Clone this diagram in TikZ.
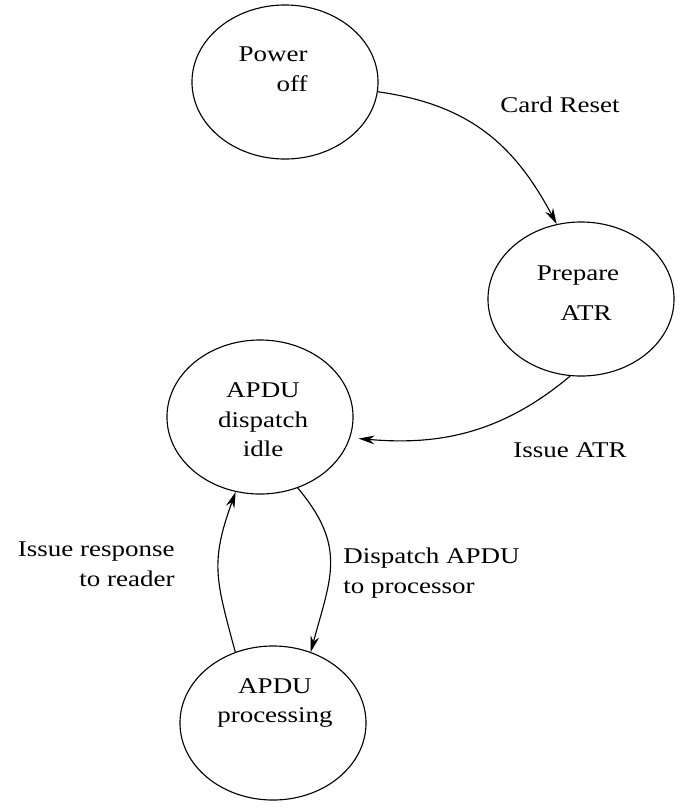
\documentclass[tikz,border=0pt]{standalone}
\usepackage{fontspec}
\setmainfont{Liberation Serif}
\usetikzlibrary{shapes.geometric, arrows.meta, positioning, calc}

\begin{document}
\begin{tikzpicture}[x=0.025cm, y=0.025cm, font=\fontsize{16}{21}\selectfont,
    state/.style={ellipse, draw=black, line width=0.8pt, minimum width=4.65cm, minimum height=3.85cm, inner sep=0pt},
    txt/.style={xscale=1.2, inner sep=0pt},
    edge/.style={-{Stealth[length=4mm, width=2.2mm]}, line width=0.8pt, looseness=1.2}]
    \useasboundingbox (0,0) rectangle (686,-810);
    \node[state] (off) at (285,-82) {};
    \node[state] (atr) at (581,-299) {};
    \node[state] (idle) at (260,-417) {};
    \node[state] (proc) at (273,-723) {};
    \node[txt, align=right, anchor=east] (off-t) at (308,-69) {Power\\off};
    \node[txt, align=center] (atr-t) at (578,-293) {Prepare\\[7pt]\hspace*{0.6em}ATR};
    \node[txt, align=center] (idle-t) at (263,-420) {APDU\\dispatch\\idle};
    \node[txt, align=center] (proc-t) at (275,-703) {APDU\\processing};
    \node[txt] (reset) at (560,-105) {Card Reset};
    \node[txt] (issue) at (570,-450) {Issue ATR};
    \node[txt, align=left, anchor=west] (disp) at (343,-573) {Dispatch APDU\\to processor};
    \node[txt, align=right, anchor=east] (resp) at (175,-564) {Issue response\\to reader};
    \draw[edge, looseness=1.05] (off.-6) to[out=-8, in=118] (atr.108);
    \draw[edge, looseness=1, shorten >=6] (atr.-98) to[out=-140, in=-5] (idle.-13);
    \draw[edge] (idle.-62) to[out=-50, in=75] (proc.62);
    \draw[edge] (proc.118) to[out=105, in=-110] (idle.-108);
\end{tikzpicture}
\end{document}
